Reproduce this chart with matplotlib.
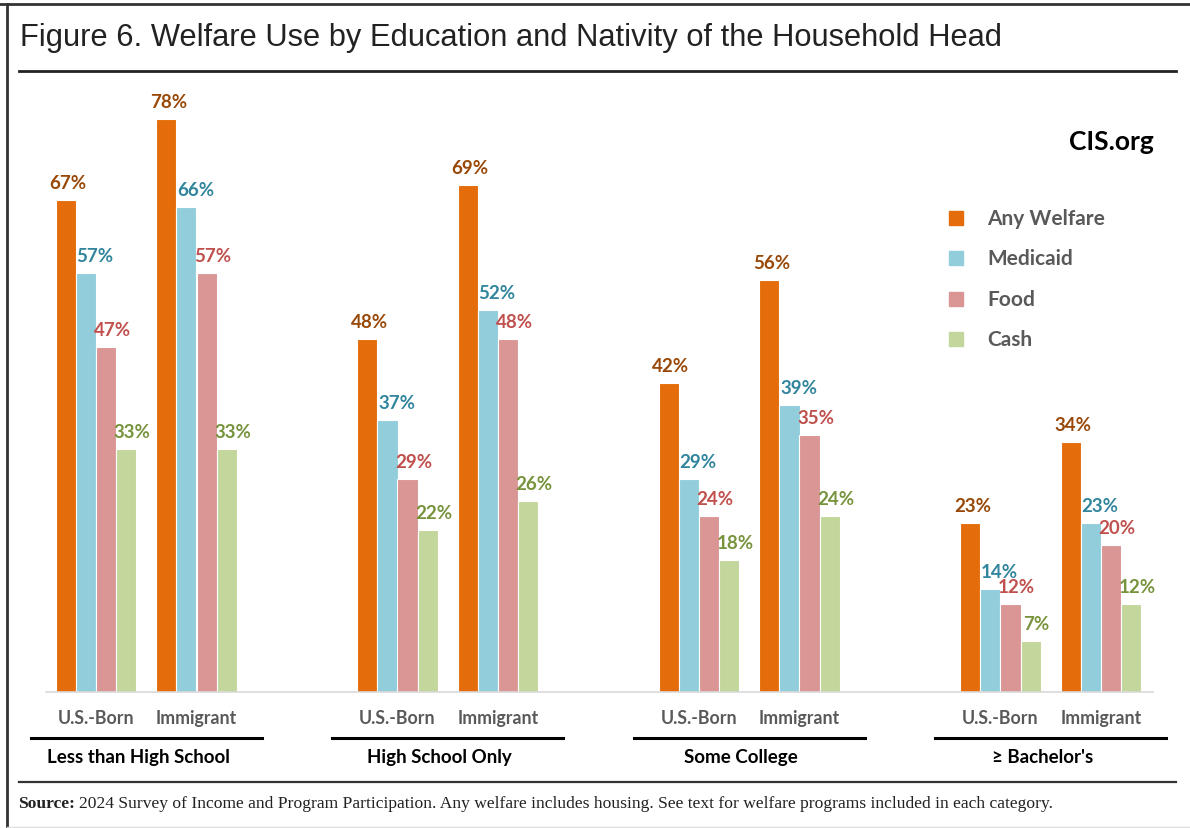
import matplotlib.pyplot as plt
from matplotlib.lines import Line2D
from matplotlib.patches import Rectangle
import matplotlib.transforms as mtransforms

W, H = 1190, 829

groups = ["Less than High School", "High School Only", "Some College", "\u2265 Bachelor's"]
nativity = ["U.S.-Born", "Immigrant"]
series = ["Any Welfare", "Medicaid", "Food", "Cash"]

# percent using each program, per group, U.S.-born then immigrant
any_welfare = [67, 78, 48, 69, 42, 56, 23, 34]
medicaid = [57, 66, 37, 52, 29, 39, 14, 23]
food = [47, 57, 29, 48, 24, 35, 12, 20]
cash = [33, 33, 22, 26, 18, 24, 7, 12]
values = [any_welfare, medicaid, food, cash]

bar_colors = ["#E46C0A", "#92CDDC", "#D99694", "#C3D69B"]
label_colors = ["#984807", "#31859C", "#C0504D", "#77933C"]
label_dx = [2, 9, 6, 6]  # px nudges for value labels

LBL = "Lato"


def fx(x):
    return x / W


def fy(y):
    return 1 - y / H


fig = plt.figure(figsize=(W / 100, H / 100), dpi=100)

# plot area: baseline at y=693px, 7.35 px per percentage point
ymax = 80
left, right, base = 46, 1153, 693
first = 96  # px centre of the first cluster
ax = fig.add_axes([fx(left), fy(base), (right - left) / W, ymax * 7.35 / H])

centers = []
for g in range(len(groups)):
    for k in range(len(nativity)):
        centers.append(g * 15 + k * 5)

offsets = [-1.5, -0.5, 0.5, 1.5]
for s in range(len(series)):
    xs = [c + offsets[s] for c in centers]
    bars = ax.bar(xs, values[s], width=1.0, color=bar_colors[s],
                  edgecolor="white", linewidth=0.8)
    for b, v in zip(bars, values[s]):
        ax.annotate(f"{v}%", (b.get_x() + b.get_width() / 2, v),
                    xytext=(label_dx[s] * 0.72, 6.5), textcoords="offset points",
                    ha="center", va="bottom", fontsize=13.5, fontweight="bold",
                    color=label_colors[s], family=LBL)

ax.set_xlim(-(first - left) / 20.1, (right - first) / 20.1)
ax.set_ylim(0, ymax)
for sp in ["top", "right", "left"]:
    ax.spines[sp].set_visible(False)
ax.spines["bottom"].set_color("#D9D9D9")
ax.spines["bottom"].set_linewidth(1.2)
ax.set_xticks([])
ax.set_yticks([])

# category and group labels below the axis
trans = mtransforms.blended_transform_factory(ax.transData, fig.transFigure)
for i, c in enumerate(centers):
    ax.text(c, fy(719), nativity[i % 2], transform=trans, ha="center", va="center",
            fontsize=12.8, fontweight="bold", color="#595959", family=LBL)

for g, name in enumerate(groups):
    gc = g * 15 + 2.5
    ax.add_line(Line2D([gc - 5.75, gc + 5.75], [fy(739), fy(739)], transform=trans,
                       color="black", linewidth=2.2, clip_on=False))
    ax.text(gc - 0.4, fy(758), name, transform=trans, ha="center", va="center",
            fontsize=13.5, fontweight="bold", color="black", family=LBL)

# legend
for i, name in enumerate(series):
    yc = 219 + i * 40.3
    fig.patches.append(Rectangle((fx(949), fy(yc + 7)), 14 / W, 14 / H,
                                 transform=fig.transFigure, color=bar_colors[i]))
    fig.text(fx(987), fy(yc), name, ha="left", va="center", fontsize=15,
             fontweight="bold", color="#595959", family=LBL)

fig.text(fx(1154), fy(142), "CIS.org", ha="right", va="center", fontsize=19,
         fontweight="bold", color="black", family=LBL)

# title and frame rules
fig.text(fx(20), fy(38), "Figure 6. Welfare Use by Education and Nativity of the Household Head",
         ha="left", va="center", fontsize=22.2, color="#222222", family="Liberation Sans")
fig.add_artist(Line2D([fx(19), fx(1176)], [fy(72), fy(72)], color="#222222", linewidth=2))
fig.add_artist(Line2D([fx(19), fx(1176)], [fy(783), fy(783)], color="#333333", linewidth=1.6))
fig.add_artist(Line2D([0, 1], [fy(5), fy(5)], color="#333333", linewidth=2))
fig.add_artist(Line2D([fx(7), fx(7)], [fy(5), 0], color="#333333", linewidth=2))
fig.add_artist(Line2D([fx(7), 1], [fy(828), fy(828)], color="#DDDDDD", linewidth=1))

# source note
src = fig.text(fx(18), fy(804), "Source:", ha="left", va="center", fontsize=12.6,
               fontweight="bold", color="#222222", family="Liberation Serif")
fig.canvas.draw()
bb = src.get_window_extent()
fig.text(bb.x1 / W + 4 / W, fy(804),
         "2024 Survey of Income and Program Participation. Any welfare includes housing. "
         "See text for welfare programs included in each category.",
         ha="left", va="center", fontsize=12.6, color="#222222", family="Liberation Serif")

fig.savefig("out.png", dpi=100)
